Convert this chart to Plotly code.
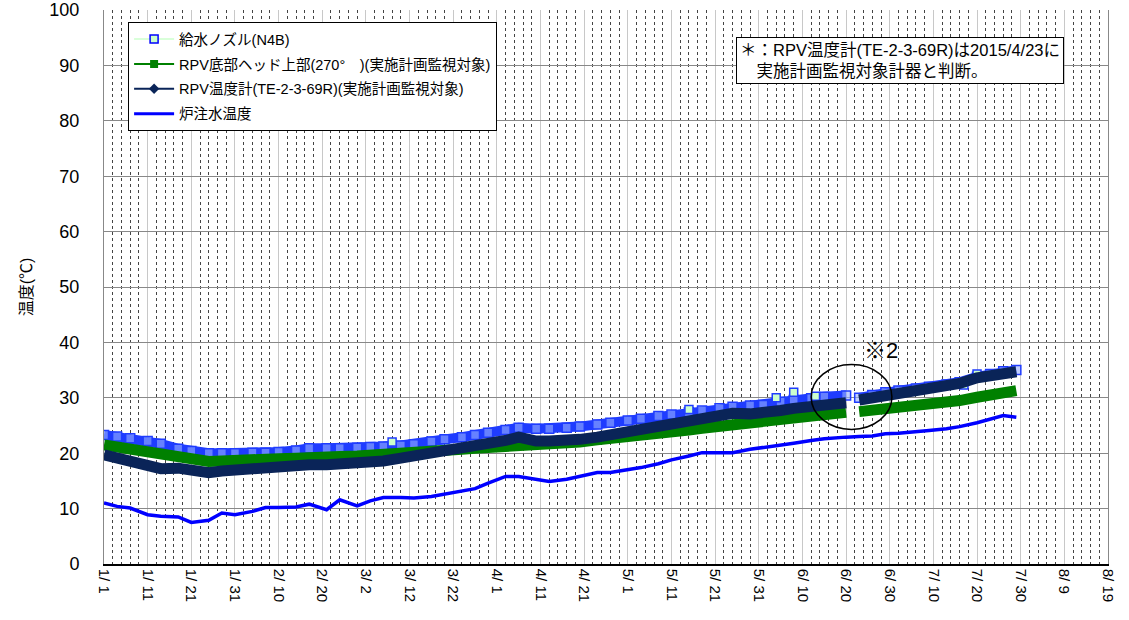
import pandas as pd
import plotly.graph_objects as go

# ---------------- data (day offsets from 2015-01-01) ----------------
start = "2015-01-01"
days = [0, 3, 6, 10, 13, 17, 20, 24, 27, 30, 34, 37, 40, 44, 47, 51, 54, 58, 61, 64,
        68, 71, 75, 78, 82, 85, 88, 92, 95, 99, 102, 106, 109, 113, 116, 120, 123, 127,
        130, 134, 137, 141, 144, 148, 151, 155, 158, 162, 165, 170, 171, 173, 176, 179,
        182, 186, 189, 193, 196, 200, 203, 206, 209]

nozzle_n4b = [23.3, 23.0, 22.7, 22.2, 21.7, 20.8, 20.4, 20.0, 20.0, 20.0, 20.1, 20.1, 20.2, 20.5,
              20.9, 20.9, 20.9, 21.0, 21.1, 21.2, 21.4, 21.6, 22.1, 22.5, 22.9, 23.3, 23.7, 24.2,
              24.6, 24.4, 24.4, 24.6, 24.8, 25.2, 25.5, 25.9, 26.2, 26.7, 27.0, 27.4, 27.7, 28.1,
              28.4, 28.6, 28.7, 29.3, 29.6, 29.9, 30.2, 30.4, None, 30.0, 30.5, 31.0, 31.3, 31.7,
              32.0, 32.4, 32.8, 33.8, 34.3, 34.8, 35.0]

bottom_head = [21.5, 21.1, 20.6, 20.0, 19.5, 19.1, 18.7, 18.5, 18.6, 18.8, 18.9, 18.9, 19.0, 19.1,
               19.3, 19.3, 19.4, 19.5, 19.6, 19.7, 19.9, 20.0, 20.2, 20.4, 20.7, 20.9, 21.0, 21.2,
               21.5, 21.5, 21.5, 21.8, 22.0, 22.4, 22.6, 23.0, 23.2, 23.6, 23.9, 24.2, 24.5, 24.9,
               25.1, 25.5, 25.9, 26.2, 26.6, 26.9, 27.1, 27.4, None, 27.5, 27.7, 27.9, 28.1, 28.4,
               28.7, 29.0, 29.5, 30.1, 30.6, 31.0, 31.3]

rpv_te = [19.7, 19.2, 18.6, 17.9, 17.2, 17.3, 17.0, 16.5, 16.8, 17.0, 17.2, 17.3, 17.5, 17.6,
          17.9, 17.9, 18.1, 17.9, 18.3, 18.6, 19.1, 19.5, 19.8, 20.0, 20.6, 21.1, 21.6, 22.3,
          22.9, 22.2, 22.2, 22.1, 22.5, 22.9, 23.3, 23.8, 24.2, 24.7, 25.2, 25.9, 26.5, 26.9,
          27.2, 27.1, 27.2, 27.7, 28.1, 28.5, 28.9, 29.1, None, 29.6, 30.0, 30.4, 30.7, 31.2,
          31.5, 32.0, 32.6, 33.6, 34.0, 34.5, 34.7]

injection = [11.0, 10.4, 10.1, 8.9, 8.6, 8.5, 7.5, 7.9, 9.2, 8.9, 9.5, 10.2, 10.2, 10.3,
             10.8, 9.8, 11.6, 10.5, 11.4, 12.0, 12.0, 11.9, 12.2, 12.6, 13.1, 13.6, 14.6, 15.8,
             15.8, 15.2, 14.9, 15.3, 15.8, 16.5, 16.5, 17.0, 17.4, 18.1, 18.8, 19.5, 20.1, 20.1,
             20.1, 20.7, 21.0, 21.5, 21.8, 22.3, 22.6, 22.9, 22.9, 23.0, 23.1, 23.5, 23.6, 23.8,
             24.1, 24.4, 24.8, 25.5, 26.1, 26.8, 26.5]

outlier_days = [66, 134, 154, 158, 163, 197, 200]
outlier_vals = [22.0, 27.9, 30.0, 31.0, 30.3, 32.3, 34.3]

series_names = ["給水ノズル(N4B)",
                "RPV底部ヘッド上部(270°　)(実施計画監視対象)",
                "RPV温度計(TE-2-3-69R)(実施計画監視対象)",
                "炉注水温度"]

note_text = "＊：RPV温度計(TE-2-3-69R)は2015/4/23に<br>　実施計画監視対象計器と判断。"
y_title = "温度(℃)"
x_end = "2015-08-19"

# ---------------- figure ----------------
t0 = pd.Timestamp(start)
x = [t0 + pd.Timedelta(days=d) for d in days]
xo = [t0 + pd.Timedelta(days=d) for d in outlier_days]

FONT = "Liberation Sans, Arial, Noto Sans CJK JP, sans-serif"
C_NOZ = "#1f3cff"
C_GREEN = "#008000"
C_NAVY = "#0a2458"
C_BLUE = "#0000ff"

fig = go.Figure()

fig.add_trace(go.Scatter(x=x, y=nozzle_n4b, mode="lines+markers", showlegend=False,
                         line=dict(color=C_NOZ, width=10),
                         marker=dict(symbol="square", size=9, color="rgba(150,175,255,0.6)",
                                     line=dict(color=C_NOZ, width=1.5))))
fig.add_trace(go.Scatter(x=xo, y=outlier_vals, mode="markers", showlegend=False,
                         marker=dict(symbol="square", size=8, color="#ccffcc",
                                     line=dict(color=C_NOZ, width=1.5))))
fig.add_trace(go.Scatter(x=x, y=bottom_head, mode="lines", showlegend=False,
                         line=dict(color=C_GREEN, width=11)))
fig.add_trace(go.Scatter(x=x, y=rpv_te, mode="lines", showlegend=False,
                         line=dict(color=C_NAVY, width=11)))
fig.add_trace(go.Scatter(x=x, y=injection, mode="lines", showlegend=False,
                         line=dict(color=C_BLUE, width=3.5)))

leg_styles = [
    dict(line=dict(color="#ccffcc", width=1.5),
         marker=dict(symbol="square", size=8, color="#ccffcc", line=dict(color=C_BLUE, width=1.5))),
    dict(line=dict(color=C_GREEN, width=2),
         marker=dict(symbol="square", size=8, color=C_GREEN)),
    dict(line=dict(color=C_NAVY, width=2),
         marker=dict(symbol="diamond", size=8, color=C_NAVY)),
    dict(line=dict(color=C_BLUE, width=3), marker=dict(size=1, color=C_BLUE)),
]
for i, (nm, st) in enumerate(zip(series_names, leg_styles)):
    fig.add_trace(go.Scatter(x=[None], y=[None], name=nm,
                             mode="lines+markers" if i < 3 else "lines",
                             legendgroup=f"g{i}", **st))

fig.update_layout(
    width=1129, height=620,
    margin=dict(l=104, r=21, t=10, b=56),
    paper_bgcolor="white", plot_bgcolor="white",
    font=dict(family=FONT, size=14, color="black"),
    showlegend=True,
    legend=dict(x=0.024, y=0.978, xanchor="left", yanchor="top",
                bgcolor="white", bordercolor="black", borderwidth=1,
                font=dict(family=FONT, size=14.5), tracegroupgap=3,
                traceorder="grouped", itemwidth=40),
    xaxis=dict(type="date", range=[t0, pd.Timestamp(x_end)], automargin=False,
               tick0=t0, dtick=10 * 86400000, tickformat="%-m/ %-d",
               tickangle=90, tickfont=dict(size=15),
               showgrid=True, gridcolor="#c8c8c8", gridwidth=1,
               minor=dict(dtick=2 * 86400000, tick0=t0, showgrid=True,
                          gridcolor="#444444", griddash="dot", gridwidth=1),
               showline=True, linecolor="black", linewidth=1.5,
               ticks="", zeroline=False),
    yaxis=dict(range=[0, 100], dtick=10, tickfont=dict(size=18), automargin=False,
               showgrid=True, gridcolor="#888888", gridwidth=1,
               showline=True, linecolor="#888888", mirror=True,
               ticks="", zeroline=False, ticklabelstandoff=20,
               title=dict(text=y_title, font=dict(size=16), standoff=12)),
)

fig.add_annotation(xref="paper", yref="paper", x=0.629, y=0.952, xanchor="left", yanchor="top",
                   text=note_text, showarrow=False, align="left",
                   font=dict(family=FONT, size=16.5),
                   bgcolor="white", bordercolor="black", borderwidth=1, borderpad=3)

fig.add_annotation(x=t0 + pd.Timedelta(days=178), y=38.5, text="※2", showarrow=False,
                   font=dict(family=FONT, size=22))
fig.add_shape(type="circle", xref="x", yref="y",
              x0=t0 + pd.Timedelta(days=162), x1=t0 + pd.Timedelta(days=180.5),
              y0=24.3, y1=36.0, line=dict(color="black", width=1.5))

fig.write_html("out.html", config={"displayModeBar": False},
               post_script="document.body.style.margin='0';")
